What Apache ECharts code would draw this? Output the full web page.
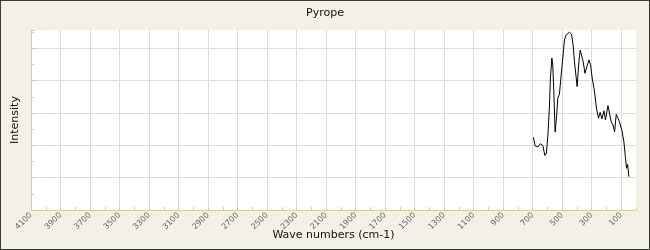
<!DOCTYPE html>
<html><head><meta charset="utf-8">
<script src="https://cdn.jsdelivr.net/npm/echarts@6/dist/echarts.min.js"></script>
<style>html,body{margin:0;padding:0;background:#f3f1e5;}#c{width:650px;height:250px;}</style>
</head><body><div id="c"></div>
<script>
// Wave numbers (cm-1) and intensity (arbitrary units, 1 unit = one horizontal grid step)
const waveNumbers = [695,684,665,648,631,618,607,597,587,580,570,564,557,548,539,530,519,507,496,485,473,462,451,437,426,417,405,399,387,378,369,358,346,333,319,308,297,281,268,254,243,231,217,207,190,179,168,156,145,134,122,112,95,82,71,64,57,48];
const intensity = [2.25,1.99,1.95,2.05,1.99,1.69,1.76,2.32,3.16,4.08,4.70,4.49,3.66,2.41,2.84,3.46,3.58,4.18,4.70,5.26,5.42,5.37,5.50,5.44,5.11,4.59,4.08,3.82,4.59,4.95,5.01,4.59,4.23,4.44,4.64,4.49,4.08,3.66,3.15,2.84,3.02,2.82,3.07,2.79,3.23,3.17,2.73,2.63,2.42,2.96,2.84,2.73,2.45,2.11,1.60,1.29,1.41,1.03];
const xTickLabels = [4100,3900,3700,3500,3300,3100,2900,2700,2500,2300,2100,1900,1700,1500,1300,1100,900,700,500,300,100];
const title = 'Pyrope';
const xName = 'Wave numbers (cm-1)';
const yName = 'Intensity';

const chart = echarts.init(document.getElementById('c'), null, {renderer:'canvas'});
const axisCol = '#d8d09a';
const fontFam = 'DejaVu Sans, sans-serif';
chart.setOption({
  animation:false,
  backgroundColor:'#f3f1e5',
  title:{text:title,left:'center',top:3,textStyle:{fontSize:11,fontWeight:'normal',color:'#111',fontFamily:fontFam}},
  grid:{left:31,right:14,top:30,bottom:40,show:true,backgroundColor:'#ffffff',borderWidth:0,containLabel:false,outerBoundsMode:'none'},
  graphic:[{type:'rect',shape:{x:0,y:0,width:650,height:250},style:{fill:'none',stroke:'#3a3a36',lineWidth:2},silent:true,z:100}],
  xAxis:[{
    type:'value',inverse:true,min:0,max:4100,position:'bottom',
    name:xName,nameLocation:'middle',nameGap:20,nameMoveOverlap:false,
    nameTextStyle:{fontSize:11,color:'#111',fontFamily:fontFam},
    axisLine:{show:true,onZero:false,lineStyle:{color:axisCol,width:1}},
    axisTick:{show:true,inside:true,length:3,customValues:xTickLabels,lineStyle:{color:axisCol}},
    axisLabel:{show:true,rotate:45,fontSize:8,color:'#666',margin:4,fontFamily:fontFam,customValues:xTickLabels,formatter:v=>String(v)},
    splitLine:{show:true,lineStyle:{color:'#dcdcdc',width:1}}
  },{
    type:'value',inverse:true,min:0,max:4100,interval:200,position:'bottom',
    axisLine:{show:false,onZero:false},
    axisTick:{show:true,inside:true,length:3,lineStyle:{color:axisCol}},
    axisLabel:{show:false},splitLine:{show:false}
  }],
  yAxis:[{
    type:'value',min:0,max:5.57,interval:1,position:'left',
    name:yName,nameLocation:'middle',nameGap:10,nameMoveOverlap:false,
    nameTextStyle:{fontSize:11,color:'#111',fontFamily:fontFam},
    axisLine:{show:true,onZero:false,lineStyle:{color:axisCol}},
    axisTick:{show:true,inside:true,length:4,lineStyle:{color:axisCol}},
    axisLabel:{show:false},
    splitLine:{show:true,showMaxLine:false,showMinLine:false,lineStyle:{color:'#dcdcdc',width:1}}
  },{
    type:'value',min:0,max:5.57,interval:0.5,position:'left',
    axisLine:{show:false,onZero:false},
    axisTick:{show:true,inside:true,length:3,lineStyle:{color:axisCol}},
    axisLabel:{show:false},splitLine:{show:false}
  }],
  series:[{
    type:'line',xAxisIndex:0,yAxisIndex:0,
    data:waveNumbers.map((w,i)=>[w,intensity[i]]),
    showSymbol:false,symbol:'none',
    lineStyle:{color:'#000',width:1},
    z:10
  }]
});
</script></body></html>
